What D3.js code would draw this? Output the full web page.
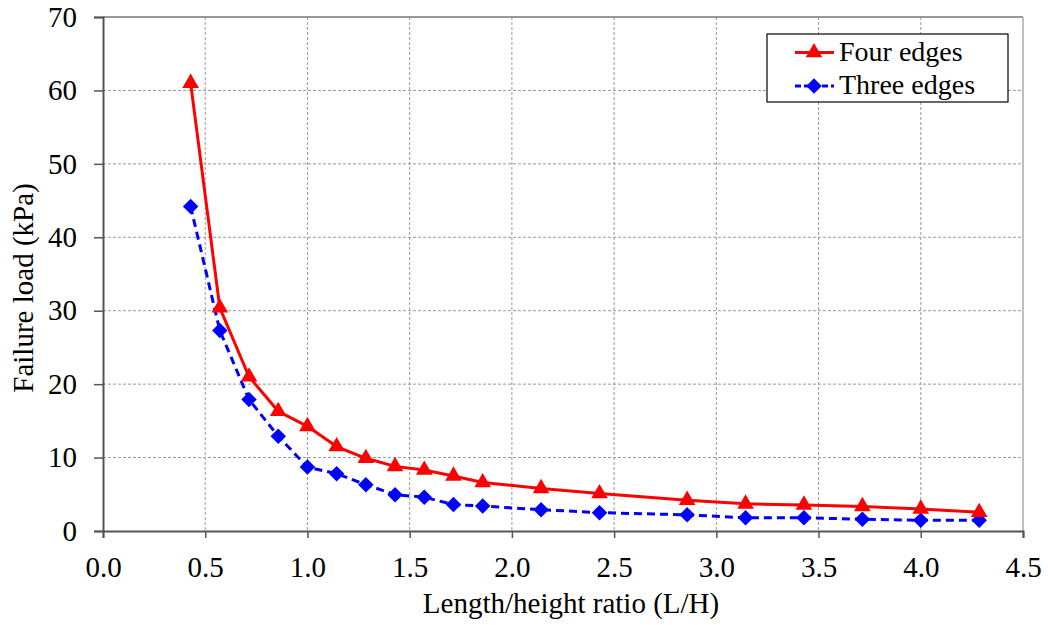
<!DOCTYPE html>
<html><head><meta charset="utf-8">
<script src="https://cdn.jsdelivr.net/npm/d3@7"></script>
<style>body{margin:0;background:#fff}svg{display:block}
svg text{font-family:"Liberation Serif","Times New Roman",serif !important;fill:#000}</style>
</head><body>
<svg id="c" width="1048" height="625"></svg>
<script>
const ratios = [3/7,4/7,5/7,6/7,1,8/7,9/7,10/7,11/7,12/7,13/7,15/7,17/7,20/7,22/7,24/7,26/7,28/7,30/7];
const fourEdges = [61,30.4,21.0,16.3,14.25,11.5,9.9,8.8,8.3,7.5,6.6,5.8,5.1,4.2,3.7,3.55,3.35,3.0,2.55];
const threeEdges = [44.2,27.3,17.9,12.9,8.7,7.8,6.3,4.95,4.6,3.6,3.4,2.9,2.5,2.2,1.8,1.8,1.6,1.45,1.45];
const xTicks = [0,0.5,1,1.5,2,2.5,3,3.5,4,4.5];
const yTicks = [0,10,20,30,40,50,60,70];
const seriesNames = ["Four edges","Three edges"];

const svg = d3.select("#c");
const L=103,R=1023,T=17,B=531;
const x = d3.scaleLinear().domain([0,4.5]).range([L,R]);
const y = d3.scaleLinear().domain([0,70]).range([B,T]);

svg.append("g").selectAll("line").data(xTicks.slice(1,-1)).join("line")
  .attr("x1",d=>x(d)).attr("x2",d=>x(d)).attr("y1",T).attr("y2",B)
  .attr("stroke","#999").attr("stroke-width",1).attr("stroke-dasharray","3,2");
svg.append("g").selectAll("line").data(yTicks.slice(1,-1)).join("line")
  .attr("x1",L).attr("x2",R).attr("y1",d=>y(d)).attr("y2",d=>y(d))
  .attr("stroke","#999").attr("stroke-width",1).attr("stroke-dasharray","3,2");
svg.append("line").attr("x1",L).attr("x2",R).attr("y1",T).attr("y2",T).attr("stroke","#777").attr("stroke-width",1.5);
svg.append("line").attr("x1",R).attr("x2",R).attr("y1",T).attr("y2",B).attr("stroke","#aaa").attr("stroke-width",1.5);

const xa = svg.append("g").attr("transform",`translate(0,${B})`)
  .call(d3.axisBottom(x).tickValues(xTicks).tickFormat(d3.format(".1f")).tickSize(7).tickPadding(18));
const ya = svg.append("g").attr("transform",`translate(${L},0)`)
  .call(d3.axisLeft(y).tickValues(yTicks).tickSize(9).tickPadding(17));
[xa,ya].forEach(a=>{
  a.select(".domain").attr("stroke","#555").attr("stroke-width",2);
  a.selectAll(".tick line").attr("stroke","#555").attr("stroke-width",1.5);
  a.selectAll("text").attr("font-size",29);
});

svg.append("text").attr("x",571).attr("y",613).attr("text-anchor","middle")
  .attr("font-size",29).text("Length/height ratio (L/H)");
svg.append("text").attr("transform",`translate(33,288) rotate(-90)`).attr("text-anchor","middle")
  .attr("font-size",29).text("Failure load (kPa)");

const line = d3.line().x(d=>x(d[0])).y(d=>y(d[1]));
const fourData = ratios.map((r,i)=>[r,fourEdges[i]]);
const threeData = ratios.map((r,i)=>[r,threeEdges[i]]);

svg.append("path").datum(threeData).attr("d",line).attr("fill","none")
  .attr("stroke","#0000ff").attr("stroke-width",3).attr("stroke-dasharray","8,5");
svg.append("path").datum(fourData).attr("d",line).attr("fill","none")
  .attr("stroke","#ff0000").attr("stroke-width",3);

const tri = d3.symbol().type(d3.symbolTriangle).size(120);
const dia = d3.symbol().type(d3.symbolSquare).size(120);
svg.append("g").selectAll("path").data(threeData).join("path")
  .attr("d",dia).attr("transform",d=>`translate(${x(d[0])},${y(d[1])}) rotate(45)`).attr("fill","#0000ff");
svg.append("g").selectAll("path").data(fourData).join("path")
  .attr("d",tri).attr("transform",d=>`translate(${x(d[0])},${y(d[1])})`).attr("fill","#ff0000");

const lg = svg.append("g");
lg.append("rect").attr("x",767).attr("y",34).attr("width",241).attr("height",68)
  .attr("fill","#fff").attr("stroke","#000").attr("stroke-width",1.2);
const rows=[{n:seriesNames[0],c:"#ff0000",dash:null,sym:tri,rot:0,y:52.5,ty:61},
            {n:seriesNames[1],c:"#0000ff",dash:"6,3",sym:dia,rot:45,y:86,ty:94}];
rows.forEach(r=>{
  lg.append("line").attr("x1",795).attr("x2",834).attr("y1",r.y).attr("y2",r.y)
    .attr("stroke",r.c).attr("stroke-width",3).attr("stroke-dasharray",r.dash);
  lg.append("path").attr("d",r.sym).attr("transform",`translate(814,${r.y}) rotate(${r.rot})`).attr("fill",r.c);
  lg.append("text").attr("x",839).attr("y",r.ty).attr("font-size",28).text(r.n);
});
</script>
</body></html>
